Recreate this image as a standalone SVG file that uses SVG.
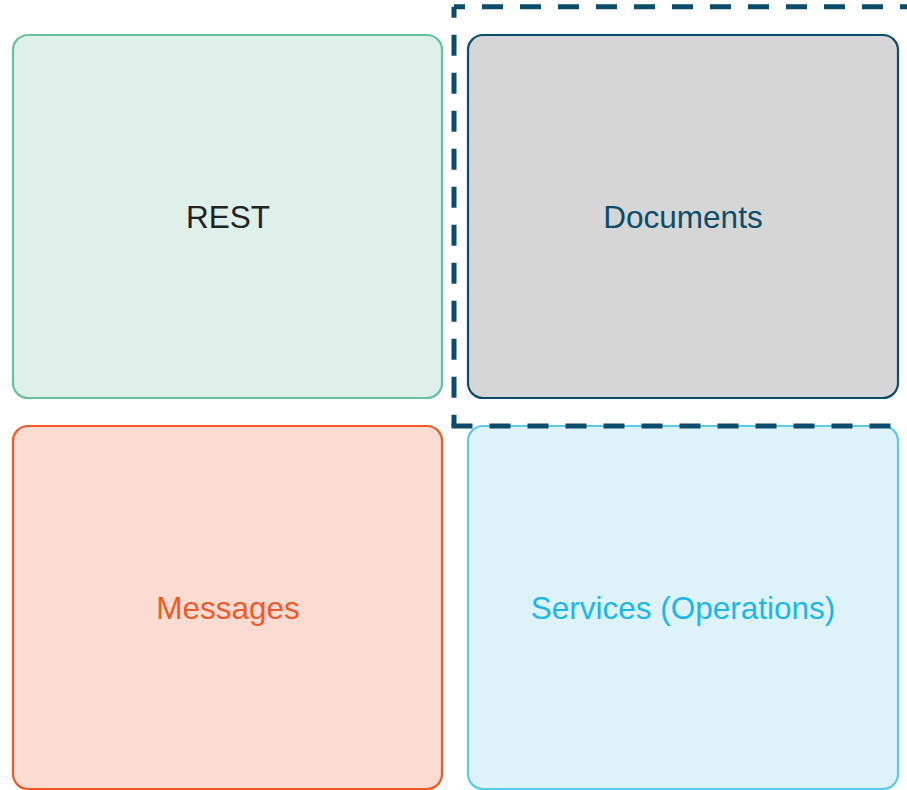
<svg xmlns="http://www.w3.org/2000/svg" width="907" height="790" viewBox="0 0 907 790">
<style>
.box{stroke-width:2.2}
text{font-family:"Liberation Sans",Arial,sans-serif;font-size:31.5px;text-anchor:middle}
.dash{fill:none;stroke:#0b4c6b;stroke-width:5;stroke-dasharray:21 17}
</style>
<rect width="907" height="790" fill="#ffffff"/>
<g id="rest"><rect class="box" x="13" y="35" width="429" height="363" rx="15" fill="#dff0ea" stroke="#67c29f"/><text x="228" y="228" fill="#222222">REST</text></g>
<g id="documents"><rect class="box" x="468" y="35" width="430" height="363" rx="15" fill="#d6d6d6" stroke="#0b4c6b"/><text x="683" y="228" fill="#0b4c6b">Documents</text></g>
<g id="messages"><rect class="box" x="13" y="426" width="429" height="363" rx="15" fill="#fadcd3" stroke="#f05a28"/><text x="228" y="619" fill="#f05a28">Messages</text></g>
<g id="services"><rect class="box" x="468" y="426" width="430" height="363" rx="15" fill="#ddf3f9" stroke="#5ccbea"/><text x="683" y="619" fill="#1bb7ec">Services (Operations)</text></g>
<g id="group">
<path class="dash" d="M454,6.7 H915" stroke-dashoffset="10"/>
<path class="dash" d="M454,6.7 V426" stroke-dashoffset="10"/>
<path class="dash" d="M451.5,426 H915" stroke-dashoffset="0"/>
</g>
</svg>
